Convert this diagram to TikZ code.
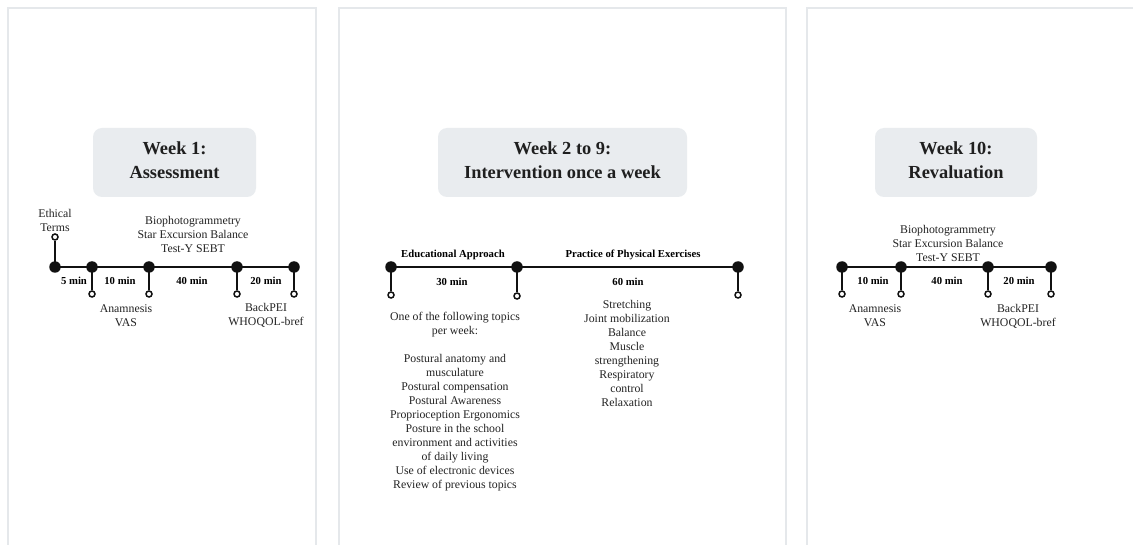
\documentclass[tikz,border=0pt]{standalone}
\usepackage{fontspec}
\setmainfont{Liberation Serif}
\definecolor{panelgray}{RGB}{229,232,235}
\definecolor{headfill}{RGB}{233,236,239}
\definecolor{bodytext}{RGB}{35,35,35}
\definecolor{linecol}{RGB}{17,17,17}
\tikzset{
  panel/.style={draw=panelgray, line width=2pt, fill=white},
  headbox/.style={fill=headfill, rounded corners=9pt, inner sep=0pt},
  headtext/.style={font=\fontsize{18.4}{24}\selectfont\bfseries, text=black!88, align=center, inner sep=0pt},
  dot/.style={circle, fill=linecol, inner sep=0pt, minimum size=11.5pt},
  ocirc/.style={circle, draw=linecol, fill=white, line width=1.5pt, inner sep=0pt, minimum size=6pt},
  tline/.style={draw=linecol, line width=2.8pt},
  stem/.style={draw=linecol, line width=2.2pt},
  lbl/.style={font=\fontsize{11.8}{14}\selectfont, text=bodytext, align=center, inner sep=0pt},
  dur/.style={font=\fontsize{10.7}{12}\selectfont\bfseries, text=black, inner sep=0pt},
}
\begin{document}
\begin{tikzpicture}[x=1pt, y=-1pt]
\useasboundingbox (0,0) rectangle (1133,545);
\clip (0,0) rectangle (1133,545);
% panels
\draw[panel] (8,8) rectangle (316,570);
\draw[panel] (339,8) rectangle (786,570);
\draw[panel] (807,8) rectangle (1150,570);
% headers
\fill[headbox] (93,128) rectangle (256,197);
\fill[headbox] (438,128) rectangle (687,197);
\fill[headbox] (875,128) rectangle (1037,197);
\node[headtext] (h1) at (174.5,160) {Week 1:\\Assessment};
\node[headtext] (h2) at (562.5,160) {Week 2 to 9:\\Intervention once a week};
\node[headtext] (h3) at (956,160) {Week 10:\\Revaluation};

% ---------- Panel 1 ----------
\node[dot] (a1) at (55,267) {};
\node[dot] (a2) at (92,267) {};
\node[dot] (a3) at (149,267) {};
\node[dot] (a4) at (237,267) {};
\node[dot] (a5) at (294,267) {};
\node[ocirc] (a1t) at (55,237) {};
\node[ocirc] (a2b) at (92,294) {};
\node[ocirc] (a3b) at (149,294) {};
\node[ocirc] (a4b) at (237,294) {};
\node[ocirc] (a5b) at (294,294) {};
\draw[tline] (a1.center) -- (a2.center) -- (a3.center) -- (a4.center) -- (a5.center);
\draw[stem] (a1.center) -- (a1t);
\draw[stem] (a2.center) -- (a2b);
\draw[stem] (a3.center) -- (a3b);
\draw[stem] (a4.center) -- (a4b);
\draw[stem] (a5.center) -- (a5b);
\node[lbl] (et) at (55,220) {Ethical\\Terms};
\node[lbl] (bio1) at (193,234.5) {Biophotogrammetry\\Star Excursion Balance\\Test-Y SEBT};
\node[dur] (d1) at (74,281) {5 min};
\node[dur] (d2) at (120,281) {10 min};
\node[dur] (d3) at (192,281) {40 min};
\node[dur] (d4) at (266,281) {20 min};
\node[lbl] (an1) at (126,315.5) {Anamnesis\\VAS};
\node[lbl] (bp1) at (266,315.5) {BackPEI\\WHOQOL-bref};

% ---------- Panel 2 ----------
\node[dot] (b1) at (391,267) {};
\node[dot] (b2) at (517,267) {};
\node[dot] (b3) at (738,267) {};
\node[ocirc] (b1b) at (391,295) {};
\node[ocirc] (b2b) at (517,296) {};
\node[ocirc] (b3b) at (738,295) {};
\draw[tline] (b1.center) -- (b2.center) -- (b3.center);
\draw[stem] (b1.center) -- (b1b);
\draw[stem] (b2.center) -- (b2b);
\draw[stem] (b3.center) -- (b3b);
\node[dur] (ea) at (453,255) {Educational Approach};
\node[dur] (pp) at (633,255) {Practice of Physical Exercises};
\node[dur] (d5) at (452,282) {30 min};
\node[dur] (d6) at (628,282) {60 min};
\node[lbl, anchor=north] (topics) at (455,312) {One of the following topics\\per week:\\[14pt]Postural anatomy and\\musculature\\Postural compensation\\Postural Awareness\\Proprioception Ergonomics\\Posture in the school\\environment and activities\\of daily living\\Use of electronic devices\\Review of previous topics};
\node[lbl, anchor=north] (ex) at (627,300) {Stretching\\Joint mobilization\\Balance\\Muscle\\strengthening\\Respiratory\\control\\Relaxation};

% ---------- Panel 3 ----------
\node[dot] (c1) at (842,267) {};
\node[dot] (c2) at (901,267) {};
\node[dot] (c3) at (988,267) {};
\node[dot] (c4) at (1051,267) {};
\node[ocirc] (c1b) at (842,294) {};
\node[ocirc] (c2b) at (901,294) {};
\node[ocirc] (c3b) at (988,294) {};
\node[ocirc] (c4b) at (1051,294) {};
\draw[tline] (c1.center) -- (c2.center) -- (c3.center) -- (c4.center);
\draw[stem] (c1.center) -- (c1b);
\draw[stem] (c2.center) -- (c2b);
\draw[stem] (c3.center) -- (c3b);
\draw[stem] (c4.center) -- (c4b);
\node[lbl] (bio3) at (948,243) {Biophotogrammetry\\Star Excursion Balance\\Test-Y SEBT};
\node[dur] (d7) at (873,281) {10 min};
\node[dur] (d8) at (947,281) {40 min};
\node[dur] (d9) at (1019,281) {20 min};
\node[lbl] (an3) at (875,316) {Anamnesis\\VAS};
\node[lbl] (bp3) at (1018,316) {BackPEI\\WHOQOL-bref};
\end{tikzpicture}
\end{document}
